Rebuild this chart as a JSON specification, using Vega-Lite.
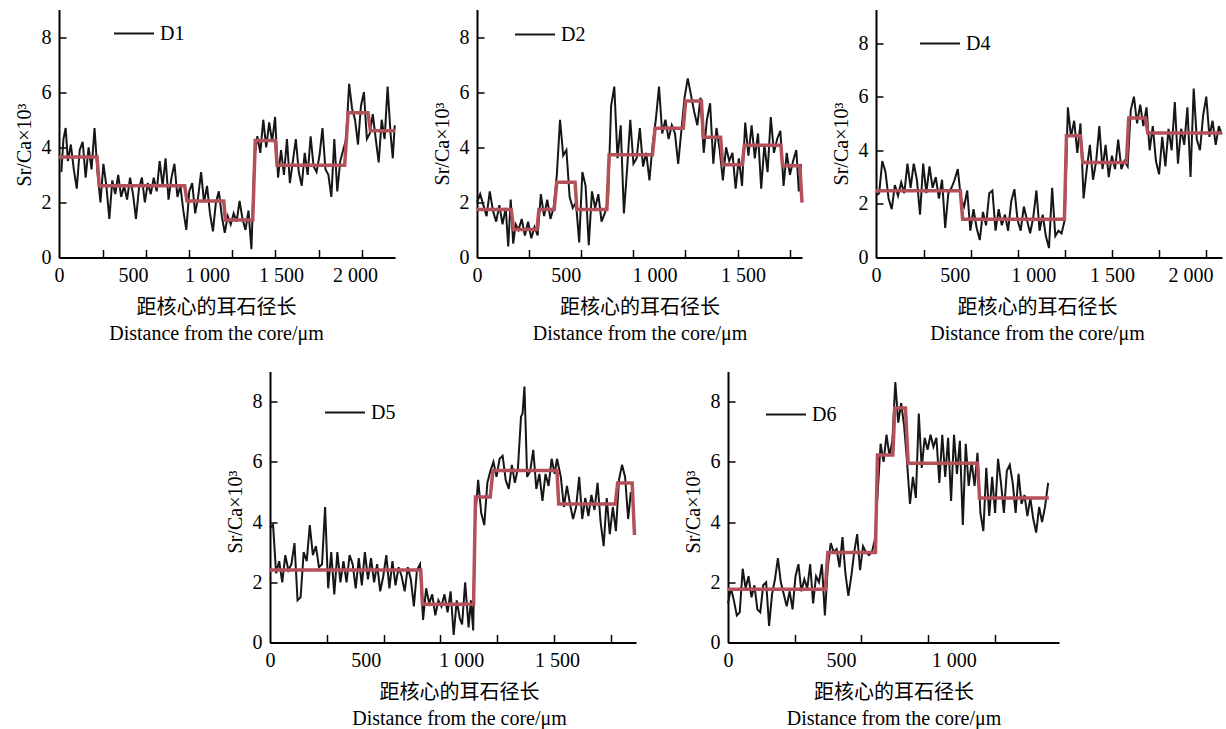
{
"$schema": "https://vega.github.io/schema/vega-lite/v6.json",
"padding": {"left": 14, "top": 9.5, "right": 2, "bottom": 2},
"background": "white",
"datasets": {
"d1": [{"x":16,"y":3.1},{"x":30,"y":4.3},{"x":45,"y":4.7},{"x":60,"y":3.5},{"x":80,"y":4.1},{"x":100,"y":3.2},{"x":120,"y":2.5},{"x":140,"y":3.9},{"x":160,"y":4.2},{"x":180,"y":2.9},{"x":200,"y":4.0},{"x":220,"y":3.2},{"x":240,"y":4.7},{"x":260,"y":3.1},{"x":280,"y":2.0},{"x":300,"y":3.4},{"x":320,"y":2.6},{"x":340,"y":1.4},{"x":360,"y":2.8},{"x":380,"y":2.3},{"x":400,"y":3.0},{"x":420,"y":2.2},{"x":440,"y":2.6},{"x":460,"y":2.1},{"x":480,"y":2.9},{"x":500,"y":2.3},{"x":520,"y":1.4},{"x":540,"y":2.5},{"x":560,"y":2.9},{"x":580,"y":2.0},{"x":600,"y":2.7},{"x":620,"y":2.3},{"x":640,"y":2.9},{"x":660,"y":2.4},{"x":680,"y":3.5},{"x":700,"y":2.6},{"x":720,"y":3.6},{"x":740,"y":2.1},{"x":760,"y":2.9},{"x":780,"y":3.4},{"x":800,"y":2.2},{"x":820,"y":2.6},{"x":840,"y":1.7},{"x":860,"y":1.0},{"x":880,"y":2.4},{"x":900,"y":2.7},{"x":920,"y":1.6},{"x":940,"y":2.2},{"x":960,"y":3.1},{"x":980,"y":2.0},{"x":1000,"y":2.6},{"x":1020,"y":1.6},{"x":1040,"y":0.95},{"x":1060,"y":2.0},{"x":1080,"y":2.4},{"x":1100,"y":1.5},{"x":1120,"y":0.9},{"x":1140,"y":1.5},{"x":1160,"y":1.2},{"x":1180,"y":1.6},{"x":1200,"y":1.3},{"x":1220,"y":2.05},{"x":1240,"y":1.4},{"x":1260,"y":1.0},{"x":1280,"y":1.7},{"x":1300,"y":0.3},{"x":1320,"y":3.6},{"x":1340,"y":4.4},{"x":1360,"y":3.8},{"x":1380,"y":5.0},{"x":1400,"y":4.0},{"x":1420,"y":4.9},{"x":1440,"y":4.2},{"x":1460,"y":5.1},{"x":1480,"y":2.9},{"x":1500,"y":3.9},{"x":1520,"y":3.0},{"x":1540,"y":4.3},{"x":1560,"y":2.7},{"x":1580,"y":3.5},{"x":1600,"y":4.3},{"x":1620,"y":3.1},{"x":1640,"y":2.6},{"x":1660,"y":3.8},{"x":1680,"y":3.0},{"x":1700,"y":4.4},{"x":1720,"y":3.3},{"x":1740,"y":3.1},{"x":1760,"y":3.7},{"x":1780,"y":4.7},{"x":1800,"y":3.2},{"x":1820,"y":3.0},{"x":1840,"y":2.2},{"x":1860,"y":4.3},{"x":1880,"y":2.4},{"x":1900,"y":3.5},{"x":1920,"y":3.9},{"x":1940,"y":4.3},{"x":1960,"y":6.3},{"x":1980,"y":5.4},{"x":2000,"y":5.0},{"x":2020,"y":4.1},{"x":2040,"y":5.5},{"x":2060,"y":6.0},{"x":2080,"y":4.3},{"x":2100,"y":4.5},{"x":2120,"y":5.2},{"x":2140,"y":4.3},{"x":2160,"y":3.45},{"x":2180,"y":5.0},{"x":2200,"y":4.3},{"x":2220,"y":6.2},{"x":2240,"y":4.5},{"x":2255,"y":3.6},{"x":2268,"y":4.8}],
"d1s": [{"x":0,"y":3.65},{"x":257,"y":3.65},{"x":272,"y":2.6},{"x":849,"y":2.6},{"x":865,"y":2.05},{"x":1113,"y":2.05},{"x":1124,"y":1.36},{"x":1309,"y":1.36},{"x":1326,"y":4.25},{"x":1462,"y":4.25},{"x":1473,"y":3.35},{"x":1930,"y":3.35},{"x":1953,"y":5.25},{"x":2088,"y":5.25},{"x":2104,"y":4.6},{"x":2270,"y":4.6}],
"d2": [{"x":0,"y":2.0},{"x":18,"y":2.3},{"x":36,"y":1.9},{"x":54,"y":1.5},{"x":72,"y":2.4},{"x":90,"y":1.7},{"x":108,"y":1.3},{"x":126,"y":1.9},{"x":144,"y":1.2},{"x":162,"y":1.8},{"x":176,"y":0.4},{"x":190,"y":2.1},{"x":204,"y":0.5},{"x":218,"y":1.2},{"x":234,"y":1.0},{"x":252,"y":1.4},{"x":270,"y":0.8},{"x":288,"y":1.3},{"x":306,"y":0.7},{"x":324,"y":1.1},{"x":342,"y":0.8},{"x":360,"y":2.3},{"x":378,"y":1.5},{"x":396,"y":2.1},{"x":414,"y":1.4},{"x":432,"y":1.8},{"x":450,"y":3.0},{"x":468,"y":5.0},{"x":486,"y":3.7},{"x":504,"y":3.9},{"x":522,"y":2.2},{"x":540,"y":1.8},{"x":558,"y":2.0},{"x":576,"y":0.55},{"x":594,"y":3.1},{"x":612,"y":2.6},{"x":630,"y":0.45},{"x":648,"y":2.4},{"x":666,"y":1.8},{"x":684,"y":2.3},{"x":702,"y":1.3},{"x":720,"y":1.6},{"x":738,"y":2.0},{"x":756,"y":5.5},{"x":774,"y":6.2},{"x":792,"y":3.6},{"x":810,"y":4.8},{"x":828,"y":1.6},{"x":846,"y":3.2},{"x":864,"y":5.0},{"x":882,"y":3.4},{"x":900,"y":3.6},{"x":918,"y":4.7},{"x":936,"y":3.3},{"x":954,"y":3.8},{"x":972,"y":2.8},{"x":990,"y":4.1},{"x":1008,"y":5.0},{"x":1026,"y":6.2},{"x":1044,"y":4.5},{"x":1062,"y":5.0},{"x":1080,"y":4.3},{"x":1098,"y":4.8},{"x":1116,"y":4.5},{"x":1134,"y":3.4},{"x":1152,"y":4.6},{"x":1170,"y":5.8},{"x":1188,"y":6.5},{"x":1206,"y":5.9},{"x":1224,"y":5.3},{"x":1242,"y":4.8},{"x":1260,"y":5.8},{"x":1278,"y":3.8},{"x":1296,"y":5.0},{"x":1314,"y":5.6},{"x":1332,"y":3.4},{"x":1350,"y":4.7},{"x":1368,"y":3.9},{"x":1386,"y":2.8},{"x":1404,"y":4.0},{"x":1422,"y":3.5},{"x":1440,"y":3.8},{"x":1458,"y":2.5},{"x":1476,"y":3.6},{"x":1494,"y":2.6},{"x":1512,"y":4.9},{"x":1530,"y":3.7},{"x":1548,"y":4.8},{"x":1566,"y":3.6},{"x":1584,"y":4.5},{"x":1602,"y":2.5},{"x":1620,"y":4.1},{"x":1638,"y":3.1},{"x":1656,"y":5.1},{"x":1674,"y":3.8},{"x":1692,"y":4.3},{"x":1710,"y":4.6},{"x":1728,"y":2.6},{"x":1746,"y":3.8},{"x":1764,"y":3.0},{"x":1782,"y":3.5},{"x":1800,"y":3.9},{"x":1814,"y":2.4},{"x":1826,"y":3.4}],
"d2s": [{"x":0,"y":1.74},{"x":193,"y":1.74},{"x":206,"y":1.02},{"x":338,"y":1.02},{"x":349,"y":1.74},{"x":435,"y":1.74},{"x":450,"y":2.73},{"x":553,"y":2.73},{"x":563,"y":1.74},{"x":732,"y":1.74},{"x":745,"y":3.73},{"x":989,"y":3.73},{"x":1004,"y":4.69},{"x":1163,"y":4.69},{"x":1176,"y":5.68},{"x":1265,"y":5.68},{"x":1276,"y":4.36},{"x":1373,"y":4.36},{"x":1385,"y":3.37},{"x":1495,"y":3.37},{"x":1507,"y":4.07},{"x":1713,"y":4.07},{"x":1722,"y":3.33},{"x":1820,"y":3.33},{"x":1832,"y":1.99}],
"d4": [{"x":0,"y":2.3},{"x":20,"y":2.4},{"x":40,"y":3.6},{"x":60,"y":3.2},{"x":80,"y":2.2},{"x":100,"y":1.8},{"x":120,"y":2.7},{"x":140,"y":2.3},{"x":160,"y":2.8},{"x":180,"y":2.4},{"x":200,"y":3.5},{"x":220,"y":2.6},{"x":240,"y":3.5},{"x":260,"y":2.9},{"x":280,"y":1.6},{"x":300,"y":3.5},{"x":320,"y":2.4},{"x":340,"y":3.4},{"x":360,"y":2.6},{"x":380,"y":3.0},{"x":400,"y":2.2},{"x":420,"y":2.9},{"x":440,"y":1.1},{"x":460,"y":2.4},{"x":480,"y":2.6},{"x":500,"y":2.9},{"x":520,"y":3.3},{"x":540,"y":2.2},{"x":560,"y":1.9},{"x":580,"y":2.5},{"x":600,"y":1.0},{"x":620,"y":1.8},{"x":640,"y":1.1},{"x":660,"y":0.65},{"x":680,"y":1.7},{"x":700,"y":1.2},{"x":720,"y":2.4},{"x":740,"y":2.5},{"x":760,"y":1.0},{"x":780,"y":1.8},{"x":800,"y":1.2},{"x":820,"y":1.6},{"x":840,"y":1.0},{"x":860,"y":2.1},{"x":880,"y":2.55},{"x":900,"y":1.4},{"x":920,"y":1.0},{"x":940,"y":1.9},{"x":960,"y":1.4},{"x":980,"y":0.9},{"x":1000,"y":1.5},{"x":1020,"y":2.5},{"x":1040,"y":1.0},{"x":1060,"y":1.6},{"x":1080,"y":0.8},{"x":1100,"y":0.35},{"x":1120,"y":2.6},{"x":1140,"y":0.8},{"x":1160,"y":1.0},{"x":1180,"y":0.9},{"x":1200,"y":1.4},{"x":1220,"y":5.6},{"x":1240,"y":4.5},{"x":1260,"y":5.1},{"x":1280,"y":3.9},{"x":1300,"y":5.0},{"x":1320,"y":2.2},{"x":1340,"y":3.3},{"x":1360,"y":4.2},{"x":1380,"y":2.9},{"x":1400,"y":3.6},{"x":1420,"y":4.9},{"x":1440,"y":3.3},{"x":1460,"y":4.2},{"x":1480,"y":3.0},{"x":1500,"y":3.8},{"x":1520,"y":3.3},{"x":1540,"y":4.4},{"x":1560,"y":3.3},{"x":1580,"y":3.6},{"x":1600,"y":3.4},{"x":1620,"y":5.5},{"x":1640,"y":6.0},{"x":1660,"y":5.0},{"x":1680,"y":5.7},{"x":1700,"y":4.9},{"x":1720,"y":5.6},{"x":1740,"y":4.0},{"x":1760,"y":4.9},{"x":1780,"y":3.6},{"x":1800,"y":3.1},{"x":1820,"y":4.5},{"x":1840,"y":3.4},{"x":1860,"y":4.8},{"x":1880,"y":4.0},{"x":1900,"y":5.8},{"x":1920,"y":3.5},{"x":1940,"y":4.8},{"x":1960,"y":4.2},{"x":1980,"y":5.6},{"x":2000,"y":3.0},{"x":2020,"y":6.3},{"x":2040,"y":4.4},{"x":2060,"y":4.0},{"x":2080,"y":5.3},{"x":2100,"y":6.0},{"x":2120,"y":4.5},{"x":2140,"y":5.1},{"x":2160,"y":4.2},{"x":2180,"y":4.9},{"x":2198,"y":4.6}],
"d4s": [{"x":0,"y":2.49},{"x":536,"y":2.49},{"x":551,"y":1.43},{"x":1198,"y":1.43},{"x":1211,"y":4.54},{"x":1300,"y":4.54},{"x":1315,"y":3.54},{"x":1592,"y":3.54},{"x":1607,"y":5.2},{"x":1713,"y":5.2},{"x":1728,"y":4.64},{"x":2200,"y":4.64}],
"d5": [{"x":0,"y":3.8},{"x":16,"y":3.9},{"x":32,"y":2.3},{"x":48,"y":2.7},{"x":64,"y":2.0},{"x":80,"y":2.9},{"x":96,"y":2.4},{"x":112,"y":2.6},{"x":128,"y":3.3},{"x":144,"y":1.4},{"x":160,"y":1.5},{"x":176,"y":3.0},{"x":192,"y":2.7},{"x":208,"y":3.9},{"x":224,"y":2.9},{"x":240,"y":3.2},{"x":256,"y":2.5},{"x":272,"y":2.6},{"x":288,"y":4.5},{"x":304,"y":1.8},{"x":320,"y":3.0},{"x":336,"y":1.6},{"x":352,"y":3.0},{"x":368,"y":2.0},{"x":384,"y":2.7},{"x":400,"y":2.0},{"x":416,"y":2.9},{"x":432,"y":2.6},{"x":448,"y":1.8},{"x":464,"y":2.8},{"x":480,"y":1.9},{"x":496,"y":3.0},{"x":512,"y":2.1},{"x":528,"y":2.8},{"x":544,"y":2.0},{"x":560,"y":2.6},{"x":576,"y":1.7},{"x":592,"y":2.2},{"x":608,"y":2.9},{"x":624,"y":1.8},{"x":640,"y":2.7},{"x":656,"y":1.9},{"x":672,"y":2.5},{"x":688,"y":2.2},{"x":704,"y":1.7},{"x":720,"y":2.5},{"x":736,"y":2.1},{"x":752,"y":1.2},{"x":768,"y":2.4},{"x":784,"y":2.6},{"x":800,"y":0.75},{"x":816,"y":1.8},{"x":832,"y":1.3},{"x":848,"y":1.6},{"x":864,"y":0.9},{"x":880,"y":1.4},{"x":896,"y":1.2},{"x":912,"y":1.6},{"x":928,"y":1.0},{"x":944,"y":1.7},{"x":960,"y":0.25},{"x":976,"y":1.4},{"x":992,"y":0.8},{"x":1004,"y":0.6},{"x":1020,"y":2.0},{"x":1038,"y":0.5},{"x":1050,"y":1.4},{"x":1062,"y":0.4},{"x":1072,"y":4.1},{"x":1088,"y":5.4},{"x":1104,"y":4.3},{"x":1120,"y":3.9},{"x":1136,"y":5.3},{"x":1152,"y":5.7},{"x":1168,"y":6.0},{"x":1184,"y":5.5},{"x":1200,"y":6.1},{"x":1216,"y":6.2},{"x":1232,"y":5.4},{"x":1248,"y":5.1},{"x":1264,"y":5.9},{"x":1280,"y":5.3},{"x":1296,"y":5.8},{"x":1312,"y":7.5},{"x":1320,"y":7.6},{"x":1330,"y":8.5},{"x":1344,"y":5.5},{"x":1360,"y":5.7},{"x":1376,"y":6.4},{"x":1392,"y":5.1},{"x":1408,"y":5.6},{"x":1424,"y":4.7},{"x":1440,"y":5.6},{"x":1456,"y":5.2},{"x":1472,"y":6.1},{"x":1488,"y":5.6},{"x":1500,"y":6.1},{"x":1520,"y":5.5},{"x":1536,"y":4.5},{"x":1552,"y":5.2},{"x":1568,"y":4.6},{"x":1584,"y":4.1},{"x":1600,"y":4.5},{"x":1616,"y":5.5},{"x":1632,"y":4.1},{"x":1648,"y":4.8},{"x":1664,"y":4.2},{"x":1680,"y":4.9},{"x":1696,"y":4.4},{"x":1712,"y":5.3},{"x":1728,"y":4.0},{"x":1744,"y":3.2},{"x":1760,"y":4.8},{"x":1776,"y":3.6},{"x":1792,"y":4.5},{"x":1808,"y":3.7},{"x":1824,"y":5.4},{"x":1840,"y":5.9},{"x":1856,"y":5.5},{"x":1872,"y":4.1},{"x":1886,"y":5.0}],
"d5s": [{"x":0,"y":2.41},{"x":788,"y":2.41},{"x":797,"y":1.27},{"x":1064,"y":1.27},{"x":1074,"y":4.83},{"x":1151,"y":4.83},{"x":1165,"y":5.71},{"x":1500,"y":5.71},{"x":1509,"y":4.6},{"x":1805,"y":4.6},{"x":1817,"y":5.3},{"x":1893,"y":5.3},{"x":1905,"y":3.57}],
"d6": [{"x":0,"y":1.3},{"x":13,"y":1.8},{"x":26,"y":1.4},{"x":39,"y":0.9},{"x":52,"y":1.0},{"x":65,"y":2.45},{"x":78,"y":1.8},{"x":91,"y":2.2},{"x":104,"y":1.5},{"x":117,"y":1.9},{"x":130,"y":1.1},{"x":143,"y":1.0},{"x":156,"y":1.9},{"x":169,"y":2.0},{"x":182,"y":0.55},{"x":195,"y":1.6},{"x":208,"y":2.1},{"x":221,"y":2.8},{"x":234,"y":2.0},{"x":247,"y":1.6},{"x":260,"y":1.2},{"x":273,"y":1.7},{"x":286,"y":1.1},{"x":299,"y":2.2},{"x":312,"y":2.6},{"x":325,"y":1.7},{"x":338,"y":2.1},{"x":351,"y":1.8},{"x":364,"y":2.6},{"x":377,"y":1.3},{"x":390,"y":2.2},{"x":403,"y":2.0},{"x":416,"y":2.6},{"x":429,"y":0.9},{"x":442,"y":2.5},{"x":455,"y":3.3},{"x":468,"y":3.0},{"x":481,"y":3.1},{"x":494,"y":2.5},{"x":507,"y":3.5},{"x":520,"y":2.3},{"x":533,"y":1.55},{"x":546,"y":2.2},{"x":559,"y":3.0},{"x":572,"y":3.6},{"x":585,"y":2.4},{"x":598,"y":3.2},{"x":611,"y":3.0},{"x":624,"y":2.9},{"x":637,"y":3.0},{"x":650,"y":3.4},{"x":663,"y":5.0},{"x":676,"y":6.6},{"x":689,"y":6.0},{"x":702,"y":6.9},{"x":715,"y":6.2},{"x":728,"y":6.7},{"x":741,"y":8.65},{"x":754,"y":7.3},{"x":767,"y":7.95},{"x":780,"y":7.2},{"x":793,"y":6.0},{"x":806,"y":4.6},{"x":819,"y":5.5},{"x":832,"y":4.8},{"x":845,"y":7.6},{"x":858,"y":5.8},{"x":871,"y":6.8},{"x":884,"y":6.4},{"x":897,"y":6.9},{"x":910,"y":6.5},{"x":923,"y":6.8},{"x":936,"y":5.3},{"x":949,"y":6.9},{"x":962,"y":5.5},{"x":975,"y":6.8},{"x":988,"y":4.7},{"x":1001,"y":6.9},{"x":1014,"y":5.6},{"x":1027,"y":6.7},{"x":1040,"y":3.9},{"x":1053,"y":6.6},{"x":1066,"y":5.2},{"x":1079,"y":6.0},{"x":1092,"y":5.2},{"x":1105,"y":6.3},{"x":1118,"y":4.3},{"x":1131,"y":3.7},{"x":1144,"y":5.8},{"x":1157,"y":4.2},{"x":1170,"y":5.5},{"x":1183,"y":4.3},{"x":1196,"y":6.1},{"x":1209,"y":5.3},{"x":1222,"y":4.3},{"x":1235,"y":5.7},{"x":1248,"y":5.9},{"x":1261,"y":5.3},{"x":1274,"y":4.3},{"x":1287,"y":5.6},{"x":1300,"y":4.6},{"x":1313,"y":4.9},{"x":1326,"y":4.2},{"x":1339,"y":4.8},{"x":1352,"y":4.1},{"x":1365,"y":3.65},{"x":1378,"y":4.5},{"x":1391,"y":4.0},{"x":1404,"y":4.5},{"x":1418,"y":5.3}],
"d6s": [{"x":0,"y":1.77},{"x":431,"y":1.77},{"x":442,"y":2.99},{"x":653,"y":2.99},{"x":662,"y":6.23},{"x":730,"y":6.23},{"x":739,"y":7.79},{"x":786,"y":7.79},{"x":798,"y":5.95},{"x":1105,"y":5.95},{"x":1114,"y":4.8},{"x":1421,"y":4.8}]
},
"spacing": 28,
"resolve": {"scale": {"color": "independent"}, "legend": {"color": "independent"}},
"vconcat": [
{
"hconcat": [
{
"width": 336, "height": 248,
"encoding": {
"x": {"field": "x", "type": "quantitative", "scale": {"domain": [0, 2270], "nice": false, "zero": false},
"axis": {"values": [0,295,500,586,876,1000,1170,1461,1500,1755,2000,2045], "labelExpr": "datum.value % 500 == 0 ? replace(format(datum.value, ','), ',', ' ') : ''", "tickOpacity": {"condition": {"test": "datum.value % 500 == 0", "value": 0}, "value": 1}, "title": ["距核心的耳石径长", "Distance from the core/μm"], "titleX": 157}},
"y": {"field": "y", "type": "quantitative", "scale": {"domain": [0, 9], "nice": false}, "axis": {"values": [0,2,4,6,8], "title": "Sr/Ca×10³", "titleY": 135}}
},
"layer": [
{"data": {"name": "d1"}, "mark": {"type": "line", "strokeWidth": 2}, "encoding": {"color": {"datum": "D1", "type": "nominal", "scale": {"range": ["#161616"]}, "legend": {"title": null, "legendX": 54, "legendY": 3}}}},
{"data": {"name": "d1s"}, "mark": {"type": "line", "color": "#b4505a", "strokeWidth": 3.5}}
]
},
{
"hconcat": [
{
"width": 325, "height": 248,
"encoding": {
"x": {"field": "x", "type": "quantitative", "scale": {"domain": [0, 1832], "nice": false, "zero": false},
"axis": {"values": [0,291,500,584,878,1000,1175,1469,1500,1762], "labelExpr": "datum.value % 500 == 0 ? replace(format(datum.value, ','), ',', ' ') : ''", "tickOpacity": {"condition": {"test": "datum.value % 500 == 0", "value": 0}, "value": 1}, "title": ["距核心的耳石径长", "Distance from the core/μm"]}},
"y": {"field": "y", "type": "quantitative", "scale": {"domain": [0, 9], "nice": false}, "axis": {"values": [0,2,4,6,8], "title": "Sr/Ca×10³", "titleY": 134}}
},
"layer": [
{"data": {"name": "d2"}, "mark": {"type": "line", "strokeWidth": 2}, "encoding": {"color": {"datum": "D2", "type": "nominal", "scale": {"range": ["#161616"]}, "legend": {"title": null, "legendX": 37, "legendY": 4}}}},
{"data": {"name": "d2s"}, "mark": {"type": "line", "color": "#b4505a", "strokeWidth": 3.5}}
]
},
{
"width": 346, "height": 248,
"encoding": {
"x": {"field": "x", "type": "quantitative", "scale": {"domain": [0, 2200], "nice": false, "zero": false},
"axis": {"values": [0,303,500,602,903,1000,1200,1499,1500,1798,2000,2097], "labelExpr": "datum.value % 500 == 0 ? replace(format(datum.value, ','), ',', ' ') : ''", "tickOpacity": {"condition": {"test": "datum.value % 500 == 0", "value": 0}, "value": 1}, "title": ["距核心的耳石径长", "Distance from the core/μm"], "titleX": 161}},
"y": {"field": "y", "type": "quantitative", "scale": {"domain": [0, 9.25], "nice": false}, "axis": {"values": [0,2,4,6,8], "title": "Sr/Ca×10³", "titleY": 134}}
},
"layer": [
{"data": {"name": "d4"}, "mark": {"type": "line", "strokeWidth": 2}, "encoding": {"color": {"datum": "D4", "type": "nominal", "scale": {"range": ["#161616"]}, "legend": {"title": null, "legendX": 43, "legendY": 13}}}},
{"data": {"name": "d4s"}, "mark": {"type": "line", "color": "#b4505a", "strokeWidth": 3.5}}
]
}
],
"spacing": 74,
"bounds": "flush",
"resolve": {"scale": {"color": "independent"}, "legend": {"color": "independent"}}
}
],
"spacing": 30,
"resolve": {"scale": {"color": "independent"}, "legend": {"color": "independent"}}
},
{
"hconcat": [
{"width": 166, "height": 271, "view": {"fill": "white", "stroke": null}, "data": {"values": []}, "mark": {"type": "point", "opacity": 0}},
{
"hconcat": [
{
"width": 366, "height": 271,
"encoding": {
"x": {"field": "x", "type": "quantitative", "scale": {"domain": [0, 1913], "nice": false, "zero": false},
"axis": {"values": [0,298,500,595,891,1000,1189,1484,1500,1781], "labelExpr": "datum.value % 500 == 0 ? replace(format(datum.value, ','), ',', ' ') : ''", "tickOpacity": {"condition": {"test": "datum.value % 500 == 0", "value": 0}, "value": 1}, "title": ["距核心的耳石径长", "Distance from the core/μm"], "titleX": 189}},
"y": {"field": "y", "type": "quantitative", "scale": {"domain": [0, 9], "nice": false}, "axis": {"values": [0,2,4,6,8], "title": "Sr/Ca×10³", "titleY": 140}}
},
"layer": [
{"data": {"name": "d5"}, "mark": {"type": "line", "strokeWidth": 2}, "encoding": {"color": {"datum": "D5", "type": "nominal", "scale": {"range": ["#161616"]}, "legend": {"title": null, "legendX": 54, "legendY": 20}}}},
{"data": {"name": "d5s"}, "mark": {"type": "line", "color": "#b4505a", "strokeWidth": 3.5}}
]
},
{
"width": 331, "height": 271,
"encoding": {
"x": {"field": "x", "type": "quantitative", "scale": {"domain": [0, 1466], "nice": false, "zero": false},
"axis": {"values": [0,296,500,591,888,1000,1183], "labelExpr": "datum.value % 500 == 0 ? replace(format(datum.value, ','), ',', ' ') : ''", "tickOpacity": {"condition": {"test": "datum.value % 500 == 0", "value": 0}, "value": 1}, "title": ["距核心的耳石径长", "Distance from the core/μm"]}},
"y": {"field": "y", "type": "quantitative", "scale": {"domain": [0, 9], "nice": false}, "axis": {"values": [0,2,4,6,8], "title": "Sr/Ca×10³", "titleY": 140}}
},
"layer": [
{"data": {"name": "d6"}, "mark": {"type": "line", "strokeWidth": 2}, "encoding": {"color": {"datum": "D6", "type": "nominal", "scale": {"range": ["#161616"]}, "legend": {"title": null, "legendX": 37, "legendY": 22}}}},
{"data": {"name": "d6s"}, "mark": {"type": "line", "color": "#b4505a", "strokeWidth": 3.5}}
]
}
],
"spacing": 92,
"bounds": "flush",
"resolve": {"scale": {"color": "independent"}, "legend": {"color": "independent"}}
}
],
"spacing": 0,
"resolve": {"scale": {"color": "independent"}, "legend": {"color": "independent"}}
}
],
"config": {
"view": {"stroke": null},
"font": "Liberation Serif",
"axis": {"grid": false, "domainColor": "#000", "domainWidth": 2, "tickColor": "#000", "tickWidth": 1.5, "labelFont": "Liberation Serif", "labelFontSize": 20, "labelColor": "#000", "titleFont": "Liberation Serif, Noto Sans CJK SC", "titleFontSize": 20, "titleFontWeight": "normal", "titleColor": "#000", "labelOverlap": false},
"axisX": {"tickSize": -8, "labelPadding": 16, "labelFlush": false, "titlePadding": 12, "titleLineHeight": 26},
"axisY": {"tickSize": -7, "labelPadding": 15, "titlePadding": 7},
"legend": {"orient": "none", "symbolType": "stroke", "symbolSize": 1600, "symbolStrokeWidth": 2, "labelFont": "Liberation Serif", "labelFontSize": 20, "labelColor": "#000", "labelOffset": 5, "padding": 0}
}
}
